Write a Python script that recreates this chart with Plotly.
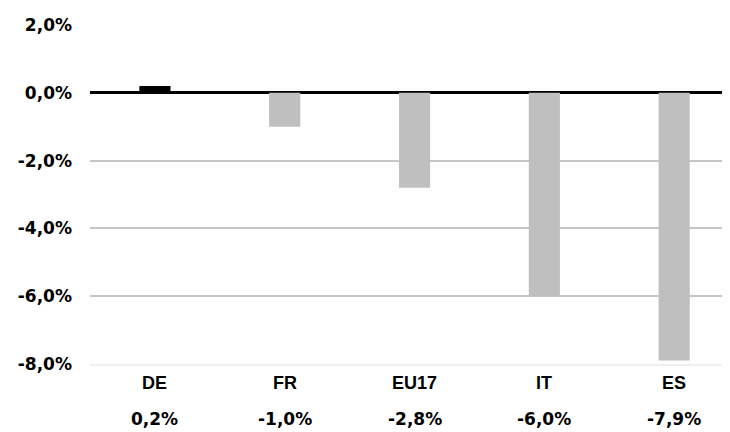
import plotly.graph_objects as go

categories = ["DE", "FR", "EU17", "IT", "ES"]
values = [0.2, -1.0, -2.8, -6.0, -7.9]
bar_colors = ["#000000", "#bfbfbf", "#bfbfbf", "#bfbfbf", "#bfbfbf"]
y_tickvals = [2, 0, -2, -4, -6, -8]
y_ticktext = ["2,0%", "0,0%", "-2,0%", "-4,0%", "-6,0%", "-8,0%"]

NUM_FONT = dict(family="DejaVu Sans", size=17, color="#000000")
CAT_FONT = dict(family="Liberation Sans", size=18, color="#000000")

x_idx = list(range(len(categories)))

fig = go.Figure()
fig.add_trace(go.Bar(
    x=x_idx, y=values, marker=dict(color=bar_colors, line=dict(width=0)),
    width=0.24, hoverinfo="skip",
))

for i, (c, v) in enumerate(zip(categories, values)):
    fig.add_annotation(x=i, xref="x", y=-0.056, yref="paper", text=f"<b>{c}</b>",
                       showarrow=False, font=CAT_FONT, xanchor="center", yanchor="middle")
    fig.add_annotation(x=i, xref="x", y=-0.162, yref="paper",
                       text="<b>" + f"{v:.1f}".replace(".", ",") + "%</b>",
                       showarrow=False, font=NUM_FONT, xanchor="center", yanchor="middle")

fig.update_layout(
    width=722, height=424,
    margin=dict(l=82, r=0, t=17, b=68),
    paper_bgcolor="white", plot_bgcolor="white",
    showlegend=False,
    xaxis=dict(range=[-0.5, 4.43], showticklabels=False, showgrid=False, zeroline=False,
               showline=True, linecolor="#efefef", linewidth=2, fixedrange=True),
    yaxis=dict(range=[-8, 2], tickvals=y_tickvals, ticktext=y_ticktext,
               tickfont=dict(family="DejaVu Sans", size=17, color="#000000", weight="bold"),
               showgrid=True, gridcolor="#c6c6c6", gridwidth=2,
               zeroline=True, zerolinecolor="#000000", zerolinewidth=2.5,
               ticks="", ticklabelstandoff=17, showline=False, fixedrange=True),
)

fig.write_html("out.html")
